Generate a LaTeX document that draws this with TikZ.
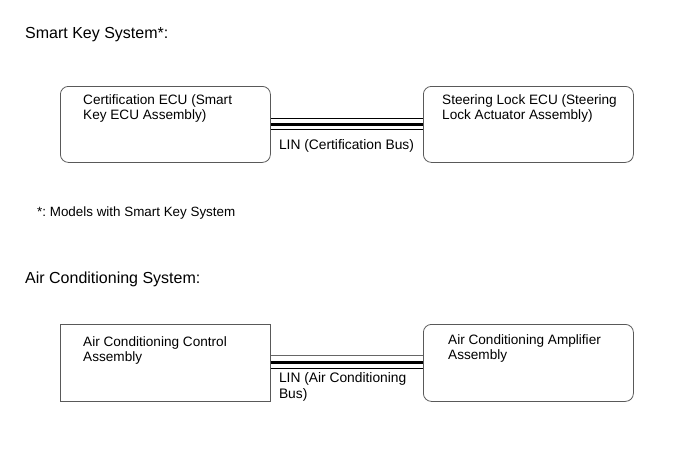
\documentclass[tikz,border=0pt]{standalone}
\usepackage{fontspec}
\setmainfont{Liberation Sans}
\usetikzlibrary{positioning}
\frenchspacing
\tikzset{
  ecubox/.style={draw=black!65, line width=0.8pt, minimum width=210pt, minimum height=76pt, inner sep=0pt},
  boxtext/.style={anchor=north west, inner sep=0pt, align=left, font=\fontsize{13.6}{15.6}\selectfont},
  bustext/.style={anchor=north west, inner sep=0pt, align=left, font=\fontsize{13.8}{16}\selectfont},
  title/.style={anchor=west, inner sep=0pt, font=\fontsize{16}{19}\selectfont},
  busthin/.style={line width=0.9pt},
  busthick/.style={line width=3pt}
}
\begin{document}
\begin{tikzpicture}[x=1pt, y=-1pt]
\useasboundingbox (0,0) rectangle (691,467);
% smart key system
\node[title] (sktitle) at (25,35) {Smart Key System*:};
\node[ecubox, rounded corners=8pt, anchor=north west] (certecu) at (60,86) {};
\node[ecubox, rounded corners=8pt, anchor=north west] (steerecu) at (423,86) {};
\node[boxtext] (certtxt) at ([xshift=23pt, yshift=-8pt]certecu.north west) {Certification ECU (Smart\\Key ECU Assembly)};
\node[boxtext] (steertxt) at ([xshift=19pt, yshift=-8pt]steerecu.north west) {Steering Lock ECU (Steering\\Lock Actuator Assembly)};
\draw[busthin] ([yshift=6pt]certecu.east) -- ([yshift=6pt]steerecu.west);
\draw[busthick] (certecu.east) -- (steerecu.west);
\draw[busthin] ([yshift=-5pt]certecu.east) -- ([yshift=-5pt]steerecu.west);
\node[bustext] (certbus) at ([xshift=8pt, yshift=-15pt]certecu.east) {LIN (Certification Bus)};
\node[anchor=west, inner sep=0pt, font=\fontsize{13.4}{15}\selectfont] (sknote) at (37,213) {*: Models with Smart Key System};
% air conditioning system
\node[title] (actitle) at (25,279) {Air Conditioning System:};
\node[ecubox, anchor=north west, minimum height=77pt] (acctrl) at (60,324) {};
\node[ecubox, rounded corners=8pt, anchor=north west, minimum height=77pt] (acamp) at (423,324) {};
\node[boxtext] (ctrltxt) at ([xshift=23pt, yshift=-12pt]acctrl.north west) {Air Conditioning Control\\Assembly};
\node[boxtext] (amptxt) at ([xshift=25pt, yshift=-10pt]acamp.north west) {Air Conditioning Amplifier\\Assembly};
\draw[busthin, black!60] ([yshift=7pt]acctrl.east) -- ([yshift=7pt]acamp.west);
\draw[busthick] (acctrl.east) -- (acamp.west);
\draw[busthin] ([yshift=-6pt]acctrl.east) -- ([yshift=-6pt]acamp.west);
\node[bustext] (acbus) at ([xshift=8pt, yshift=-9pt]acctrl.east) {LIN (Air Conditioning\\Bus)};
\end{tikzpicture}
\end{document}
